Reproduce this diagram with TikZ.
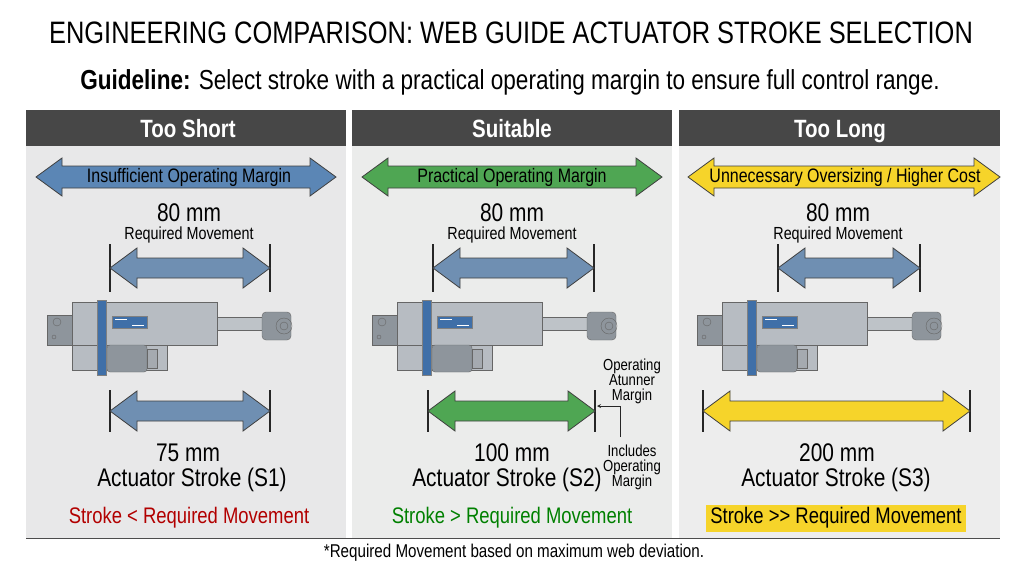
\documentclass[tikz,border=0pt]{standalone}
\usepackage{fontspec}
\setmainfont{Liberation Sans}[FakeStretch=0.82]
\begin{document}
\begin{tikzpicture}[x=1pt,y=-1pt,
  hdr/.style={fill=black!72,draw=none},
  hdrtxt/.style={text=white,font=\bfseries\fontsize{25}{26}\selectfont,text height=20pt,text depth=1pt},
  lbl/.style={font=\fontsize{19.5}{20}\selectfont},
  big/.style={font=\fontsize{25.5}{26}\selectfont},
  small/.style={font=\fontsize{17.5}{18}\selectfont},
  tiny/.style={font=\fontsize{16}{15}\selectfont,align=center,inner sep=1pt},
  tick/.style={line width=1.1pt,black!85}]
\definecolor{pb}{HTML}{5B86B5}
\definecolor{rb}{HTML}{6F8FB2}
\definecolor{gr}{HTML}{4FA653}
\definecolor{ye}{HTML}{F6D42A}
\definecolor{ac}{HTML}{B7BCC2}
\definecolor{acd}{HTML}{8E959C}
\definecolor{bl}{HTML}{3F6FA8}
\newcommand\DArrow[7]{% x1 x2 y shafthalf headhalf headlen fill
  \filldraw[fill=#7,draw=black!75,line width=0.8pt]
   (#1,#3) -- ({#1+#6},{#3-#5}) -- ({#1+#6},{#3-#4}) -- ({#2-#6},{#3-#4}) -- ({#2-#6},{#3-#5})
   -- (#2,#3) -- ({#2-#6},{#3+#5}) -- ({#2-#6},{#3+#4}) -- ({#1+#6},{#3+#4}) -- ({#1+#6},{#3+#5}) -- cycle;}
\tikzset{actuator/.pic={
  \filldraw[fill=acd,draw=black!60] (0,15) rectangle (28,45);
  \draw[black!60] (10,22) circle (4);
  \draw[black!60] (7,37) circle (2);
  \filldraw[fill=ac,draw=black!60] (25,2) rectangle (170,45);
  \filldraw[fill=ac,draw=black!60] (25,45) rectangle (120,70);
  \filldraw[fill=acd,draw=black!60,rounded corners=3pt] (60,45) rectangle (100,72);
  \filldraw[fill=acd!80,draw=black!60] (100,49) rectangle (110,68);
  \filldraw[fill=bl,draw=black!50] (50,0) rectangle (59,75);
  \filldraw[fill=bl,draw=black!50] (65,16) rectangle (100,28);
  \draw[white,line width=1pt] (68,19) -- (80,19) (85,25) -- (97,25);
  \filldraw[fill=ac!90,draw=black!60] (170,17) rectangle (220,30);
  \filldraw[fill=acd,draw=black!60,rounded corners=4pt] (215,12) rectangle (244,40) ;
  \draw[black!60] (237,26) circle (8) (237,26) circle (4);
}}
\useasboundingbox (0,0) rectangle (1020,565);
\fill[white] (0,0) rectangle (1020,565);
\node (title) at (511,33) {\fontsize{31}{32}\selectfont ENGINEERING COMPARISON: WEB GUIDE ACTUATOR STROKE SELECTION};
\node (guide) at (510,82) {\fontsize{27.5}{28}\selectfont\textbf{Guideline:} Select stroke with a practical operating margin to ensure full control range.};
% panels
\fill[blue!4!black!9] (26,146) rectangle (346,538);
\fill[green!8!black!8] (352,146) rectangle (672,538);
\fill[black!7] (679,146) rectangle (1000,538);
\fill[hdr] (26,110) rectangle (346,146);
\fill[hdr] (352,110) rectangle (672,146);
\fill[hdr] (679,110) rectangle (1000,146);
\node[hdrtxt] (h1) at (188,128) {Too Short};
\node[hdrtxt] (h2) at (512,128) {Suitable};
\node[hdrtxt] (h3) at (840,128) {Too Long};
\draw[black!70,line width=1pt] (26,538) -- (1000,538);
\node[font=\fontsize{18.5}{19}\selectfont] (foot) at (514,553) {*Required Movement based on maximum web deviation.};
% big arrows
\DArrow{36}{336}{177}{11}{19}{26}{pb}
\DArrow{362}{662}{177}{11}{19}{26}{gr}
\DArrow{688}{1000}{177}{11}{19}{26}{ye}
\node[lbl] (m1) at (189,177) {Insufficient Operating Margin};
\node[lbl] (m2) at (512,177) {Practical Operating Margin};
\node[lbl] (m3) at (845,177) {Unnecessary Oversizing / Higher Cost};
% required movement
\foreach \c/\x in {1/189,2/512,3/838}{
  \node[big] (r\c) at (\x,213) {80 mm};
  \node[small] (rm\c) at (\x,235) {Required Movement};
}
\foreach \a/\b in {110/270,433/594,778/920}{
  \draw[tick] (\a,244) -- (\a,292) (\b,244) -- (\b,292);
  \DArrow{\a}{\b}{268}{10}{20}{27}{rb}
}
% actuators
\pic at (47,300) {actuator};
\pic at (372,300) {actuator};
\pic at (697,300) {actuator};
% strokes
\draw[tick] (110,390) -- (110,432) (270,390) -- (270,432);
\DArrow{110}{270}{411}{10}{20}{27}{rb}
\draw[tick] (428,390) -- (428,432) (595,390) -- (595,432);
\DArrow{428}{595}{411}{10}{20}{27}{gr}
\draw[tick] (703,390) -- (703,432) (970,390) -- (970,432);
\DArrow{703}{970}{411}{10}{20}{27}{ye}
% annotation
\node[tiny] (op) at (632,381) {Operating\\Atunner\\Margin};
\node[tiny] (inc) at (632,467) {Includes\\Operating\\Margin};
\coordinate (ak) at (620,437);
\coordinate (at) at (597,406);
\draw[black!85,line width=0.8pt,-stealth] (ak) |- (at);
% stroke labels
\node[big] (s1) at (188,453) {75 mm};
\node[big] (t1) at (192,480) {Actuator Stroke (S1)};
\node[big] (s2) at (512,453) {100 mm};
\node[big] (t2) at (507,480) {Actuator Stroke (S2)};
\node[big] (s3) at (837,453) {200 mm};
\node[big] (t3) at (836,480) {Actuator Stroke (S3)};
\node[font=\fontsize{22.5}{23}\selectfont,text=red!70!black] (c1) at (189,518) {Stroke < Required Movement};
\node[font=\fontsize{22.5}{23}\selectfont,text=green!50!black] (c2) at (512,518) {Stroke > Required Movement};
\fill[ye] (706,505) rectangle (966,532);
\node[font=\fontsize{22.5}{23}\selectfont] (c3) at (836,518) {Stroke {>}{>} Required Movement};
\end{tikzpicture}
\end{document}
